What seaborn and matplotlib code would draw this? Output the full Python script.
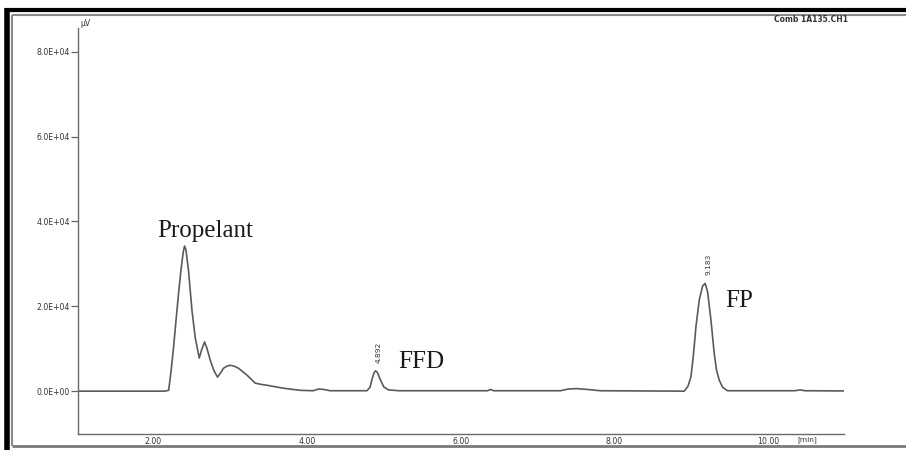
import numpy as np
import pandas as pd
import matplotlib
matplotlib.use("Agg")
import matplotlib.pyplot as plt
import seaborn as sns
from matplotlib.lines import Line2D
from matplotlib.transforms import blended_transform_factory

# retention time (min) and detector signal (uV)
time_min = [1.02, 2.15, 2.20, 2.23, 2.264, 2.30, 2.329, 2.36, 2.39, 2.407, 2.425,
            2.459, 2.503, 2.546, 2.598, 2.63, 2.667, 2.70, 2.741, 2.79, 2.836,
            2.875, 2.914, 2.96, 3.001, 3.05, 3.109, 3.218, 3.326, 3.40, 3.478,
            3.69, 3.91, 4.08, 4.15, 4.22, 4.30, 4.78, 4.82, 4.85, 4.875, 4.895,
            4.92, 4.96, 5.00, 5.06, 5.20, 6.35, 6.39, 6.43, 7.30, 7.40, 7.51,
            7.65, 7.82, 8.91, 8.96, 8.998, 9.03, 9.063, 9.106, 9.15, 9.183,
            9.215, 9.258, 9.301, 9.33, 9.366, 9.41, 9.475, 10.35, 10.42, 10.48,
            10.99]
signal_uv = [0, 0, 200, 4500, 10400, 17500, 23100, 28500, 32800, 34200, 33300,
             28300, 19100, 12600, 7800, 9800, 11600, 10000, 7300, 4800, 3300,
             4300, 5400, 5900, 6100, 5900, 5400, 3800, 1900, 1600, 1400,
             700, 200, 100, 500, 400, 100, 100, 900, 3000, 4400, 4800,
             4300, 2500, 1000, 300, 100, 100, 400, 100, 100, 500, 600,
             400, 100, 0, 1200, 3400, 8500, 15200, 21500, 24800, 25400,
             23400, 16800, 8900, 5000, 2600, 900, 100, 100, 300, 100,
             50]

y_ticks = [0, 20000, 40000, 60000, 80000]
y_tick_labels = ["0.0E+00", "2.0E+04", "4.0E+04", "6.0E+04", "8.0E+04"]
x_ticks = [2, 4, 6, 8, 10]
x_tick_labels = ["2.00", "4.00", "6.00", "8.00", "10.00"]

peak_names = ["Propelant", "FFD", "FP"]
name_pos_t = [2.68, 5.49, 9.62]
name_pos_v = [37700, 6950, 21200]

rt_labels = ["4.892", "9.183"]
rt_peak_t = [4.895, 9.183]
rt_peak_v = [4800, 25400]

df = pd.DataFrame({"time": time_min, "signal": signal_uv})

sns.set_style("white")
fig = plt.figure(figsize=(9.06, 4.5), dpi=100)
ax = fig.add_axes([78 / 906, 1 - 434 / 450, (844 - 78) / 906, (434 - 28) / 450])

sns.lineplot(data=df, x="time", y="signal", ax=ax, color="#5a5a5a",
             linewidth=1.2, estimator=None)

ax.set_xlim(1.02, 10.99)
ax.set_ylim(-10100, 85600)
ax.set_xlabel("")
ax.set_ylabel("")

ax.set_yticks(y_ticks)
ax.set_yticklabels(y_tick_labels)
ax.set_xticks(x_ticks)
ax.set_xticklabels(x_tick_labels)
ax.tick_params(axis="y", length=5, width=0.9, color="#666666", pad=1,
               labelsize=5.6, labelcolor="#333333", left=True)
ax.tick_params(axis="x", length=0, pad=2, labelsize=5.6, labelcolor="#333333")

for side in ["top", "right"]:
    ax.spines[side].set_visible(False)
for side in ["left", "bottom"]:
    ax.spines[side].set_color("#6a6a6a")
    ax.spines[side].set_linewidth(1.0)

serif = ["Liberation Serif", "DejaVu Serif"]
for name, t, v in zip(peak_names, name_pos_t, name_pos_v):
    ax.text(t, v, name, family=serif, fontsize=18, ha="center", va="center",
            color="#1a1a1a")

for lab, t, v in zip(rt_labels, rt_peak_t, rt_peak_v):
    ax.text(t + 0.045, v + 1900, lab, rotation=90, fontsize=5.3, ha="center",
            va="bottom", color="#333333")

ax.text(0.003, 1.0, "\u00b5V", transform=ax.transAxes, fontsize=5.5,
        ha="left", va="bottom", color="#333333")
trans = blended_transform_factory(ax.transData, ax.transAxes)
ax.text(10.51, -0.005, "[min]", transform=trans, fontsize=5.3, ha="center",
        va="top", color="#333333")
fig.text(848 / 906, 1 - 20 / 450, "Comb 1A135.CH1", fontsize=5.5,
         ha="right", va="center", color="#333333", weight="bold")

# screenshot frame: black outer border, gray inner border
frame = [
    ([5 / 906, 1], [1 - 9.5 / 450, 1 - 9.5 / 450], "black", 3),
    ([7 / 906, 7 / 906], [0, 1 - 8 / 450], "black", 4),
    ([12 / 906, 1], [1 - 15 / 450, 1 - 15 / 450], "#8a8a8a", 1.5),
    ([12 / 906, 12 / 906], [1 - 446 / 450, 1 - 15 / 450], "#8a8a8a", 1.5),
    ([12 / 906, 1], [1 - 446 / 450, 1 - 446 / 450], "#7a7a7a", 2),
]
for xs, ys, col, lw in frame:
    fig.add_artist(Line2D(xs, ys, transform=fig.transFigure, color=col,
                          linewidth=lw, solid_capstyle="butt"))

fig.savefig("out.png", dpi=100)
